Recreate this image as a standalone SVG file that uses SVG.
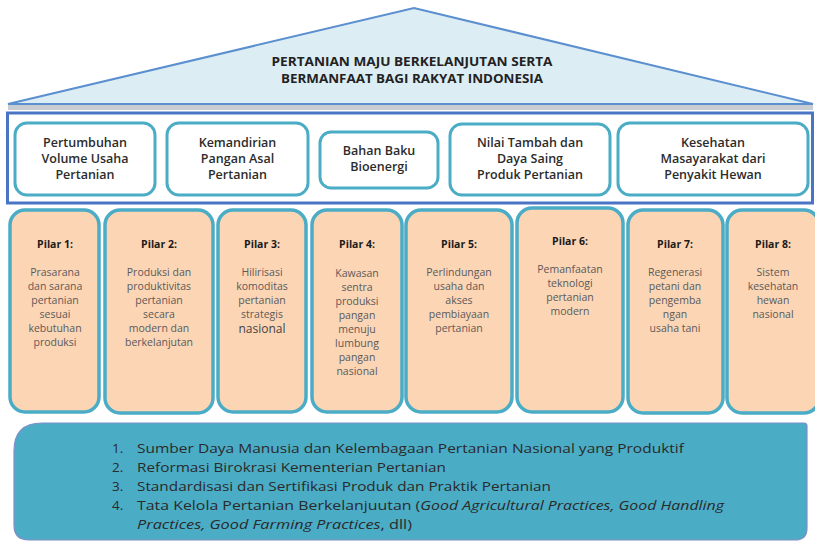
<svg xmlns="http://www.w3.org/2000/svg" width="815" height="542" viewBox="0 0 815 542">
<style>
.goal{fill:#fff;stroke:#4bacc6;stroke-width:3}
.gt{font-family:"Open Sans","Liberation Sans",sans-serif;font-size:12.5px;font-weight:600;fill:#2b2b2b;text-anchor:middle}
.pil{fill:#fcd5b5;stroke:#4bacc6;stroke-width:3.5}
.pt{font-family:"Open Sans","Liberation Sans",sans-serif;font-size:10.5px;font-weight:700;fill:#1a1a1a;text-anchor:middle}
.pb{font-family:"Open Sans","Liberation Sans",sans-serif;font-size:10.5px;font-weight:400;fill:#5a5a5a;text-anchor:middle}
.bt{font-family:"Open Sans","Liberation Sans",sans-serif;font-size:13.5px;fill:#2a2a2a}
.title{font-family:"Open Sans","Liberation Sans",sans-serif;font-size:12px;font-weight:700;fill:#222;text-anchor:middle}
</style>
<g id="roof">
<polygon points="8,104 414,8 813,104" fill="#dcedf4" stroke="#5b8fcf" stroke-width="2"/>
<rect x="8" y="105" width="805" height="5" fill="#c9ccd0"/>
<text class="title" x="412" y="66" textLength="281" lengthAdjust="spacingAndGlyphs">PERTANIAN MAJU BERKELANJUTAN SERTA</text>
<text class="title" x="412" y="83" textLength="262" lengthAdjust="spacingAndGlyphs">BERMANFAAT BAGI RAKYAT INDONESIA</text>
</g>
<g id="goals">
<rect x="7.5" y="113" width="805" height="90" fill="#fff" stroke="#4a74c4" stroke-width="3"/>
<g id="goal1"><rect class="goal" x="15" y="123" width="140" height="72" rx="12"/>
<text class="gt" x="85" y="147">Pertumbuhan</text><text class="gt" x="85" y="163">Volume Usaha</text><text class="gt" x="85" y="179">Pertanian</text></g>
<g id="goal2"><rect class="goal" x="167" y="123" width="141" height="72" rx="12"/>
<text class="gt" x="237.5" y="147">Kemandirian</text><text class="gt" x="237.5" y="163">Pangan Asal</text><text class="gt" x="237.5" y="179">Pertanian</text></g>
<g id="goal3"><rect class="goal" x="320" y="132" width="118" height="56" rx="11"/>
<text class="gt" x="379" y="155">Bahan Baku</text><text class="gt" x="379" y="171">Bioenergi</text></g>
<g id="goal4"><rect class="goal" x="450" y="124" width="160" height="71" rx="12"/>
<text class="gt" x="530" y="147">Nilai Tambah dan</text><text class="gt" x="530" y="163">Daya Saing</text><text class="gt" x="530" y="179">Produk Pertanian</text></g>
<g id="goal5"><rect class="goal" x="618" y="123" width="190" height="72" rx="12"/>
<text class="gt" x="713" y="147">Kesehatan</text><text class="gt" x="713" y="163">Masayarakat dari</text><text class="gt" x="713" y="179">Penyakit Hewan</text></g>
</g>
<g id="pilar1"><rect class="pil" x="10" y="210" width="89" height="202" rx="15"/>
<text class="pt" x="55" y="248">Pilar 1:</text>
<text class="pb" x="55" y="276">Prasarana</text><text class="pb" x="55" y="290">dan sarana</text><text class="pb" x="55" y="304">pertanian</text><text class="pb" x="55" y="318">sesuai</text><text class="pb" x="55" y="332">kebutuhan</text><text class="pb" x="55" y="346">produksi</text></g>
<g id="pilar2"><rect class="pil" x="105" y="210" width="108" height="203" rx="15"/>
<text class="pt" x="159" y="248">Pilar 2:</text>
<text class="pb" x="159" y="276">Produksi dan</text><text class="pb" x="159" y="290">produktivitas</text><text class="pb" x="159" y="304">pertanian</text><text class="pb" x="159" y="318">secara</text><text class="pb" x="159" y="332">modern dan</text><text class="pb" x="159" y="346">berkelanjutan</text></g>
<g id="pilar3"><rect class="pil" x="218" y="210" width="88" height="202" rx="15"/>
<text class="pt" x="262" y="248">Pilar 3:</text>
<text class="pb" x="262" y="276">Hilirisasi</text><text class="pb" x="262" y="290">komoditas</text><text class="pb" x="262" y="304">pertanian</text><text class="pb" x="262" y="318">strategis</text><text class="pb" x="262" y="333" style="font-size:12px;fill:#444">nasional</text></g>
<g id="pilar4"><rect class="pil" x="312" y="210" width="90" height="202" rx="15"/>
<text class="pt" x="357" y="248">Pilar 4:</text>
<text class="pb" x="357" y="277">Kawasan</text><text class="pb" x="357" y="291">sentra</text><text class="pb" x="357" y="305">produksi</text><text class="pb" x="357" y="319">pangan</text><text class="pb" x="357" y="333">menuju</text><text class="pb" x="357" y="347">lumbung</text><text class="pb" x="357" y="361">pangan</text><text class="pb" x="357" y="375">nasional</text></g>
<g id="pilar5"><rect class="pil" x="406" y="210" width="106" height="202" rx="15"/>
<text class="pt" x="459" y="248">Pilar 5:</text>
<text class="pb" x="459" y="276">Perlindungan</text><text class="pb" x="459" y="290">usaha dan</text><text class="pb" x="459" y="304">akses</text><text class="pb" x="459" y="318">pembiayaan</text><text class="pb" x="459" y="332">pertanian</text></g>
<g id="pilar6"><rect class="pil" x="517" y="208" width="106" height="204" rx="15"/>
<text class="pt" x="570" y="245">Pilar 6:</text>
<text class="pb" x="570" y="273">Pemanfaatan</text><text class="pb" x="570" y="287">teknologi</text><text class="pb" x="570" y="301">pertanian</text><text class="pb" x="570" y="315">modern</text></g>
<g id="pilar7"><rect class="pil" x="628" y="210" width="95" height="203" rx="15"/>
<text class="pt" x="675" y="248">Pilar 7:</text>
<text class="pb" x="675" y="276">Regenerasi</text><text class="pb" x="675" y="290">petani dan</text><text class="pb" x="675" y="304">pengemba</text><text class="pb" x="675" y="318">ngan</text><text class="pb" x="675" y="332">usaha tani</text></g>
<g id="pilar8"><rect class="pil" x="727" y="210" width="92" height="203" rx="15"/>
<text class="pt" x="773" y="248">Pilar 8:</text>
<text class="pb" x="773" y="276">Sistem</text><text class="pb" x="773" y="290">kesehatan</text><text class="pb" x="773" y="304">hewan</text><text class="pb" x="773" y="318">nasional</text></g>
<g id="base">
<path d="M14,451 Q14,423 42,423 L804,423 Q807,423 807,426 L807,528 Q807,540 795,540 L29,540 Q14,540 14,525 Z" fill="#4bacc6" stroke="#7f8fc8" stroke-width="1.2"/>
<text class="bt" x="112" y="453">1.</text><text class="bt" x="137" y="453" textLength="547" lengthAdjust="spacingAndGlyphs">Sumber Daya Manusia dan Kelembagaan Pertanian Nasional yang Produktif</text>
<text class="bt" x="112" y="472">2.</text><text class="bt" x="137" y="472" textLength="309" lengthAdjust="spacingAndGlyphs">Reformasi Birokrasi Kementerian Pertanian</text>
<text class="bt" x="112" y="491">3.</text><text class="bt" x="137" y="491" textLength="414" lengthAdjust="spacingAndGlyphs">Standardisasi dan Sertifikasi Produk dan Praktik Pertanian</text>
<text class="bt" x="112" y="510">4.</text><text class="bt" x="137" y="510" textLength="587" lengthAdjust="spacingAndGlyphs">Tata Kelola Pertanian Berkelanjuutan (<tspan font-style="italic">Good Agricultural Practices, Good Handling</tspan></text>
<text class="bt" x="137" y="529" textLength="275" lengthAdjust="spacingAndGlyphs"><tspan font-style="italic">Practices, Good Farming Practices</tspan>, dll)</text>
</g>
</svg>
